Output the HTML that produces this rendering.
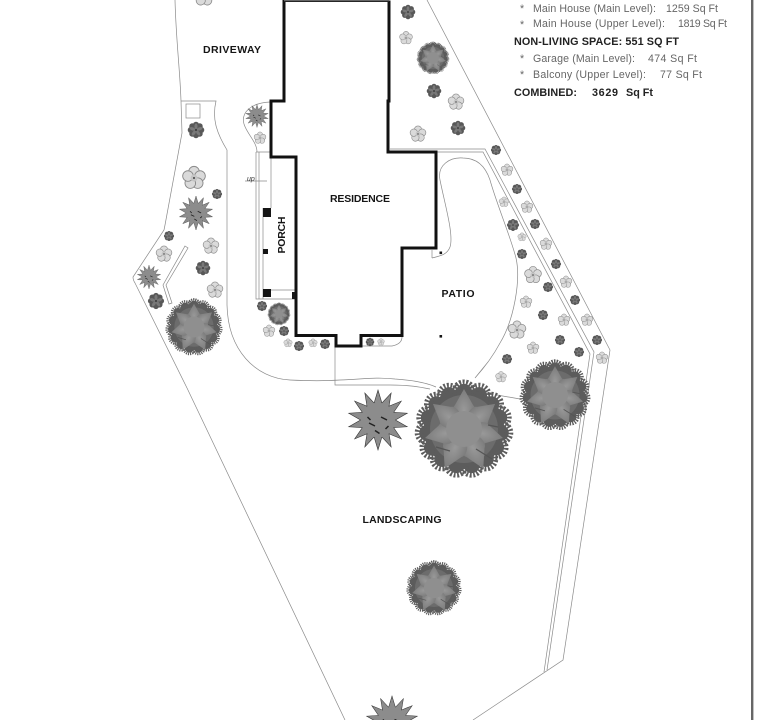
<!DOCTYPE html>
<html><head><meta charset="utf-8"><style>
html,body{margin:0;padding:0;background:#fff;width:760px;height:720px;overflow:hidden}
svg{display:block}
text{font-family:"Liberation Sans",sans-serif}
.b{font-weight:bold;font-size:10.5px;fill:#151515}
.t{font-size:10.600px;fill:#666}
.h{font-size:10.800px;font-weight:bold;fill:#222}
.l{fill:none;stroke:#8a8a8a;stroke-width:.7}
.soft{filter:blur(.3px)}
</style></head><body>
<svg width="760" height="720" viewBox="0 0 760 720" xmlns="http://www.w3.org/2000/svg">
<defs>
<radialGradient id="gp"><stop offset="0" stop-color="#999"/><stop offset="1" stop-color="#7c7c7c"/></radialGradient>
<path id="pt" d="M0 2Q16 -18 9 -24L0 -40L-9 -24Q-16 -18 0 2Z"/>
<circle id="lb" cy="-37" r="8" fill="#5c5c5c" stroke="#5c5c5c" stroke-width="9" stroke-dasharray="1.500 1.300"/>
<g id="lbs"><use href="#lb"/><use href="#lb" transform="rotate(24)"/><use href="#lb" transform="rotate(48)"/><use href="#lb" transform="rotate(72)"/><use href="#lb" transform="rotate(96)"/><use href="#lb" transform="rotate(120)"/><use href="#lb" transform="rotate(144)"/><use href="#lb" transform="rotate(168)"/></g>
<g id="tree">
<circle r="37" fill="#5f5f5f"/>
<use href="#lbs"/><use href="#lbs" transform="rotate(192)"/>
<circle r="34" fill="#6c6c6c"/>
<g fill="url(#gp)">
<use href="#pt"/>
<use href="#pt" transform="rotate(51)"/>
<use href="#pt" transform="rotate(103)"/>
<use href="#pt" transform="rotate(154) scale(1.100)"/>
<use href="#pt" transform="rotate(206) scale(1.100)"/>
<use href="#pt" transform="rotate(257)"/>
<use href="#pt" transform="rotate(309)"/>
</g>
<circle r="18" fill="#8f8f8f"/>
<path d="M-28 18l14 4M12 20l16 10M24 -4l10 2" stroke="#555" stroke-width="1.200" fill="none"/>
</g>
<polygon id="rh" points="0,-10 3,0 0,10 -3,0"/>
<g id="spk">
<g fill="#8c8c8c" stroke="#333" stroke-width=".2">
<use href="#rh"/><use href="#rh" transform="rotate(26)"/><use href="#rh" transform="rotate(51)"/><use href="#rh" transform="rotate(77)"/>
<use href="#rh" transform="rotate(103)"/><use href="#rh" transform="rotate(129)"/><use href="#rh" transform="rotate(154)"/>
</g>
<circle r="5.800" fill="#8c8c8c"/>
<path d="M-3 1l2 1M1 -1l2 1M-1 3.500l1.500 1M2.500 3l1-1M-3.500 -1l1 1" stroke="#222" stroke-width=".5" fill="none"/>
</g>
<g id="d">
<g fill="#585858"><circle cy="-6.500" r="3.600"/><circle cy="-6.500" r="3.600" transform="rotate(45)"/><circle cy="-6.500" r="3.600" transform="rotate(90)"/><circle cy="-6.500" r="3.600" transform="rotate(135)"/><circle cy="-6.500" r="3.600" transform="rotate(180)"/><circle cy="-6.500" r="3.600" transform="rotate(225)"/><circle cy="-6.500" r="3.600" transform="rotate(270)"/><circle cy="-6.500" r="3.600" transform="rotate(315)"/><circle r="7"/></g>
<g fill="#797979"><ellipse cy="-4.500" rx="1.900" ry="3.600"/><ellipse cy="-4.500" rx="1.900" ry="3.600" transform="rotate(72)"/><ellipse cy="-4.500" rx="1.900" ry="3.600" transform="rotate(144)"/><ellipse cy="-4.500" rx="1.900" ry="3.600" transform="rotate(216)"/><ellipse cy="-4.500" rx="1.900" ry="3.600" transform="rotate(288)"/></g>
<circle r="1.300" fill="#3c3c3c"/>
</g>
<g id="f">
<g fill="#dadada" stroke="#8a8a8a" stroke-width=".8">
<circle cy="-5.500" r="4.600"/><circle cy="-5.500" r="4.600" transform="rotate(72)"/><circle cy="-5.500" r="4.600" transform="rotate(144)"/><circle cy="-5.500" r="4.600" transform="rotate(216)"/><circle cy="-5.500" r="4.600" transform="rotate(288)"/>
</g>
<circle r="3" fill="#c4c4c4"/><circle r=".9" fill="#444"/>
</g>
</defs>

<rect width="760" height="720" fill="#fff"/>
<rect x="751" y="0" width="2.400" height="720" fill="#666"/>

<!-- site lines -->
<g class="l">
<path d="M175 0C176 40 180 70 181 101L182 133L165 225L164 230L133 277Q133 280 135 283L187 388L345 720"/>
<path d="M181 101H216C212 118 216 132 227 150V305C228 350 255 378 290 380C310 381 325 381 340 380C365 379 375 377 395 379C410 380 425 382 436 387"/>
<path d="M335 346V385H390C410 385 420 387 430 389M497 395L520 399"/>
<rect x="186" y="104" width="14" height="14"/>
<path d="M185 246L188 248L166 285L172 303L169 304L163 285Z"/>
<path d="M270 102C250 103 241 113 244 124C247 134 257 142 257 152"/>
<path d="M256 152V299H296M259 152V299M263 208V299M256 152H271M271 158V208M263 290H295"/>
<path d="M245 181H267"/>
<path d="M390 149H485L594 352L547 670M390 152H483L590 354L544 672"/>
<path d="M427 0L610 350L563 660L473 720"/>
<path d="M432 258V250M432 258C440 256 447 255 450 247C454 235 445 205 440 180C437 165 450 157 463 158C478 158 486 168 490 180C497 205 510 235 516 258C521 280 514 320 500 343C492 358 484 368 475 378L488 362"/>
<path d="M361 346H392Q402 344 402 337"/>
</g>

<!-- house -->
<path d="M389 0.500H284V101H271V157H296V335.500H336V346H361V335.500H402V248H436V152H388V101H389V0.500" fill="#fff" stroke="#111" stroke-width="3"/>
<path d="M284 0.500H389" stroke="#666" stroke-width="1.500"/>

<!-- posts -->
<g fill="#151515">
<rect x="263" y="208" width="8" height="9"/>
<rect x="263" y="249" width="5" height="5"/>
<rect x="263" y="289" width="8" height="8"/>
<rect x="292" y="292" width="3" height="7"/>
<rect x="439.500" y="251.500" width="2.600" height="2.600"/>
<rect x="439.500" y="335" width="2.600" height="2.600"/>
</g>

<g class="soft">
<!-- large trees -->
<use href="#tree" transform="translate(464,429) scale(1)"/>
<use href="#tree" transform="translate(555,395) scale(.72)"/>
<use href="#tree" transform="translate(434,588) scale(.56)"/>
<use href="#tree" transform="translate(194,327) scale(.58)"/>
<use href="#tree" transform="translate(433,58) scale(.33)"/>
<use href="#tree" transform="translate(279,314) scale(.23)"/>

<!-- spiky -->
<use href="#spk" transform="translate(378,420) scale(3)"/>
<use href="#spk" transform="translate(392,722) scale(2.600)"/>
<use href="#spk" transform="translate(196,213) scale(1.700)"/>
<use href="#spk" transform="translate(149,277) scale(1.200)"/>
<use href="#spk" transform="translate(257,116) scale(1.150)"/>

<!-- dark shrubs -->
<use href="#d" transform="translate(408,12) scale(.72)"/>
<use href="#d" transform="translate(434,91) scale(.72)"/>
<use href="#d" transform="translate(458,128) scale(.72)"/>
<use href="#d" transform="translate(196,130) scale(.82)"/>
<use href="#d" transform="translate(217,194) scale(.5)"/>
<use href="#d" transform="translate(169,236) scale(.5)"/>
<use href="#d" transform="translate(203,268) scale(.72)"/>
<use href="#d" transform="translate(156,301) scale(.8)"/>
<use href="#d" transform="translate(262,306) scale(.5)"/>
<use href="#d" transform="translate(284,331) scale(.5)"/>
<use href="#d" transform="translate(299,346) scale(.5)"/>
<use href="#d" transform="translate(325,344) scale(.5)"/>
<use href="#d" transform="translate(370,342) scale(.42)"/>
<use href="#d" transform="translate(496,150) scale(.5)"/>
<use href="#d" transform="translate(517,189) scale(.5)"/>
<use href="#d" transform="translate(535,224) scale(.5)"/>
<use href="#d" transform="translate(513,225) scale(.6)"/>
<use href="#d" transform="translate(522,254) scale(.5)"/>
<use href="#d" transform="translate(556,264) scale(.5)"/>
<use href="#d" transform="translate(548,287) scale(.5)"/>
<use href="#d" transform="translate(575,300) scale(.5)"/>
<use href="#d" transform="translate(543,315) scale(.5)"/>
<use href="#d" transform="translate(560,340) scale(.5)"/>
<use href="#d" transform="translate(597,340) scale(.5)"/>
<use href="#d" transform="translate(579,352) scale(.5)"/>
<use href="#d" transform="translate(507,359) scale(.5)"/>

<!-- light flowers -->
<use href="#f" transform="translate(204,-4) scale(1)"/>
<use href="#f" transform="translate(406,38) scale(.65)"/>
<use href="#f" transform="translate(456,102) scale(.8)"/>
<use href="#f" transform="translate(418,134) scale(.8)"/>
<use href="#f" transform="translate(260,138) scale(.6)"/>
<use href="#f" transform="translate(194,178) scale(1.150)"/>
<use href="#f" transform="translate(211,246) scale(.8)"/>
<use href="#f" transform="translate(164,254) scale(.8)"/>
<use href="#f" transform="translate(215,290) scale(.8)"/>
<use href="#f" transform="translate(269,331) scale(.6)"/>
<use href="#f" transform="translate(288,343) scale(.42)"/>
<use href="#f" transform="translate(313,343) scale(.42)"/>
<use href="#f" transform="translate(381,342) scale(.35)"/>
<use href="#f" transform="translate(507,170) scale(.6)"/>
<use href="#f" transform="translate(504,202) scale(.5)"/>
<use href="#f" transform="translate(527,207) scale(.6)"/>
<use href="#f" transform="translate(522,237) scale(.42)"/>
<use href="#f" transform="translate(546,244) scale(.6)"/>
<use href="#f" transform="translate(533,275) scale(.85)"/>
<use href="#f" transform="translate(566,282) scale(.6)"/>
<use href="#f" transform="translate(526,302) scale(.6)"/>
<use href="#f" transform="translate(564,320) scale(.6)"/>
<use href="#f" transform="translate(587,320) scale(.6)"/>
<use href="#f" transform="translate(517,330) scale(.9)"/>
<use href="#f" transform="translate(533,348) scale(.6)"/>
<use href="#f" transform="translate(602,358) scale(.6)"/>
<use href="#f" transform="translate(501,377) scale(.55)"/>
</g>

<!-- labels -->
<text class="b" x="232" y="53" text-anchor="middle" textLength="58">DRIVEWAY</text>
<text class="b" x="360" y="202" text-anchor="middle" textLength="60">RESIDENCE</text>
<text class="b" x="458" y="297" text-anchor="middle" textLength="33">PATIO</text>
<text class="b" x="402" y="523" text-anchor="middle" textLength="79">LANDSCAPING</text>
<text class="b" transform="translate(285,235) rotate(-90)" text-anchor="middle" textLength="37">PORCH</text>
<text x="247" y="181" font-size="7" font-style="italic" fill="#333">up</text>

<!-- area table -->
<text class="t" x="520" y="12">*</text>
<text class="t" x="533" y="12" textLength="123">Main House (Main Level):</text>
<text class="t" x="666" y="12" textLength="52">1259 Sq Ft</text>
<text class="t" x="520" y="28">*</text>
<text class="t" x="533" y="27" textLength="132">Main House (Upper Level):</text>
<text class="t" x="678" y="27" textLength="49">1819 Sq Ft</text>
<text class="h" x="514" y="45" textLength="165">NON-LIVING SPACE: 551 SQ FT</text>
<text class="t" x="520" y="62">*</text>
<text class="t" x="533" y="62" textLength="102">Garage (Main Level):</text>
<text class="t" x="648" y="62" textLength="49">474 Sq Ft</text>
<text class="t" x="520" y="78">*</text>
<text class="t" x="533" y="78" textLength="113">Balcony (Upper Level):</text>
<text class="t" x="660" y="78" textLength="42">77 Sq Ft</text>
<text class="h" x="514" y="96" textLength="63">COMBINED:</text>
<text class="h" x="592" y="96" textLength="26">3629</text>
<text class="h" x="626" y="96" textLength="27">Sq Ft</text>
</svg>
</body></html>
